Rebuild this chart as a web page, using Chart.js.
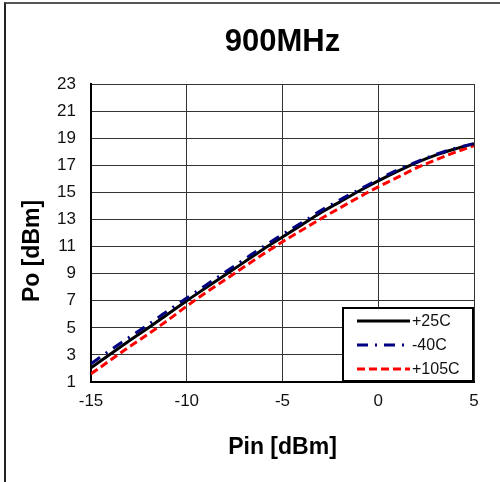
<!DOCTYPE html>
<html>
<head>
<meta charset="utf-8">
<script src="https://cdn.jsdelivr.net/npm/chart.js@4.4.1/dist/chart.umd.min.js"></script>
<style>
  html, body { margin: 0; padding: 0; background: #fff; }
  #wrap { position: relative; width: 500px; height: 482px; overflow: hidden; }
  #frame {
    position: absolute; left: 4px; top: 2px; width: 600px; height: 600px;
    border-left: 2px solid #222; border-top: 2px solid #555;
  }
  #wrap canvas { position: absolute; left: 0; top: 0; }
</style>
</head>
<body>
<div id="wrap">
  <div id="frame"></div>
  <canvas id="poutChart"></canvas>
</div>
<script>
// input power sweep, dBm
const pin = [-15, -14, -13, -12, -11, -10, -9, -8, -7, -6, -5, -4, -3, -2, -1, 0, 1, 2, 3, 4, 5];

// output power per temperature, dBm
const po25 = [2.05, 3.05, 4.05, 5.0, 6.0, 7.0, 7.95, 8.9, 9.85, 10.8, 11.7, 12.6, 13.5, 14.3, 15.1, 15.85, 16.55, 17.2, 17.75, 18.2, 18.6];
const poM40 = [2.35, 3.35, 4.3, 5.25, 6.25, 7.2, 8.15, 9.1, 10.05, 11.0, 11.9, 12.75, 13.65, 14.45, 15.2, 15.95, 16.65, 17.25, 17.8, 18.25, 18.6];
const po105 = [1.6, 2.6, 3.6, 4.55, 5.55, 6.6, 7.6, 8.55, 9.5, 10.45, 11.35, 12.2, 13.05, 13.85, 14.65, 15.4, 16.1, 16.8, 17.4, 17.95, 18.45];

const seriesLabels = ['+25C', '-40C', '+105C'];
const xTicks = [-15, -10, -5, 0, 5];
const yTicks = [1, 3, 5, 7, 9, 11, 13, 15, 17, 19, 21, 23];

const FONT = 'Arial, "Liberation Sans", sans-serif';

const toPoints = (ys) => pin.map((x, i) => ({ x: x, y: ys[i] }));

// y-axis title and the boxed legend sitting in the lower right corner of the plot
const extrasPlugin = {
  id: 'extras',
  afterDraw(chart) {
    const ctx = chart.ctx;
    const area = chart.chartArea;

    ctx.save();
    ctx.translate(33, 251);
    ctx.rotate(-Math.PI / 2);
    ctx.font = 'bold 23px ' + FONT;
    ctx.fillStyle = '#000';
    ctx.textAlign = 'center';
    ctx.textBaseline = 'middle';
    ctx.fillText('Po [dBm]', 0, 0);
    ctx.restore();

    const w = 130, h = 73;
    const left = area.right - w - 1;
    const top = area.bottom - h - 1;
    ctx.save();
    ctx.fillStyle = '#fff';
    ctx.fillRect(left, top, w, h);
    ctx.strokeStyle = '#000';
    ctx.lineWidth = 2;
    ctx.strokeRect(left, top, w, h);

    ctx.font = '16px ' + FONT;
    ctx.textBaseline = 'middle';
    ctx.textAlign = 'left';
    chart.data.datasets.forEach((ds, i) => {
      const y = top + 13 + i * 24;
      ctx.beginPath();
      ctx.strokeStyle = ds.borderColor;
      ctx.lineWidth = ds.borderWidth;
      ctx.setLineDash(ds.borderDash || []);
      ctx.moveTo(left + 14, y);
      ctx.lineTo(left + 67, y);
      ctx.stroke();
      ctx.setLineDash([]);
      ctx.fillStyle = '#111';
      ctx.fillText(ds.label, left + 69, y + 1);
    });
    ctx.restore();
  }
};

const ctx = document.getElementById('poutChart').getContext('2d');
new Chart(ctx, {
  type: 'line',
  data: {
    datasets: [
      {
        label: seriesLabels[0],
        data: toPoints(po25),
        borderColor: '#000000',
        borderWidth: 3,
        order: 1,
      },
      {
        label: seriesLabels[1],
        data: toPoints(poM40),
        borderColor: '#000080',
        borderWidth: 3,
        borderDash: [11, 7, 2, 7],
        order: 0,
      },
      {
        label: seriesLabels[2],
        data: toPoints(po105),
        borderColor: '#ff0000',
        borderWidth: 3,
        borderDash: [8, 4],
        order: 2,
      },
    ],
  },
  options: {
    responsive: true,
    maintainAspectRatio: false,
    animation: false,
    layout: { padding: { left: 0, right: 26, top: 0, bottom: 0 } },
    elements: {
      point: { radius: 0 },
      line: { tension: 0.4, cubicInterpolationMode: 'monotone', fill: false },
    },
    plugins: {
      legend: { display: false },
      tooltip: { enabled: false },
      title: {
        display: true,
        text: '900MHz',
        fullSize: false,
        color: '#000',
        font: { family: FONT, size: 31, weight: 'bold' },
        padding: { top: 24, bottom: 22.8 },
      },
    },
    scales: {
      x: {
        type: 'linear',
        min: xTicks[0],
        max: xTicks[xTicks.length - 1],
        afterFit: (scale) => { scale.height = 100; },
        afterBuildTicks: (scale) => { scale.ticks = xTicks.map((v) => ({ value: v })); },
        ticks: { color: '#111', padding: 9, font: { family: FONT, size: 17 } },
        grid: { color: '#333', lineWidth: 1, drawTicks: false },
        border: { color: '#000', width: 2 },
        title: {
          display: true,
          text: 'Pin [dBm]',
          color: '#000',
          font: { family: FONT, size: 23, weight: 'bold' },
          padding: { top: 0, bottom: 21 },
        },
      },
      y: {
        type: 'linear',
        min: yTicks[0],
        max: yTicks[yTicks.length - 1],
        afterFit: (scale) => { scale.width = 91; },
        afterBuildTicks: (scale) => { scale.ticks = yTicks.map((v) => ({ value: v })); },
        ticks: { color: '#111', padding: 15, font: { family: FONT, size: 17 } },
        grid: { color: '#333', lineWidth: 1, drawTicks: false },
        border: { color: '#000', width: 2 },
      },
    },
  },
  plugins: [extrasPlugin],
});
</script>
</body>
</html>
